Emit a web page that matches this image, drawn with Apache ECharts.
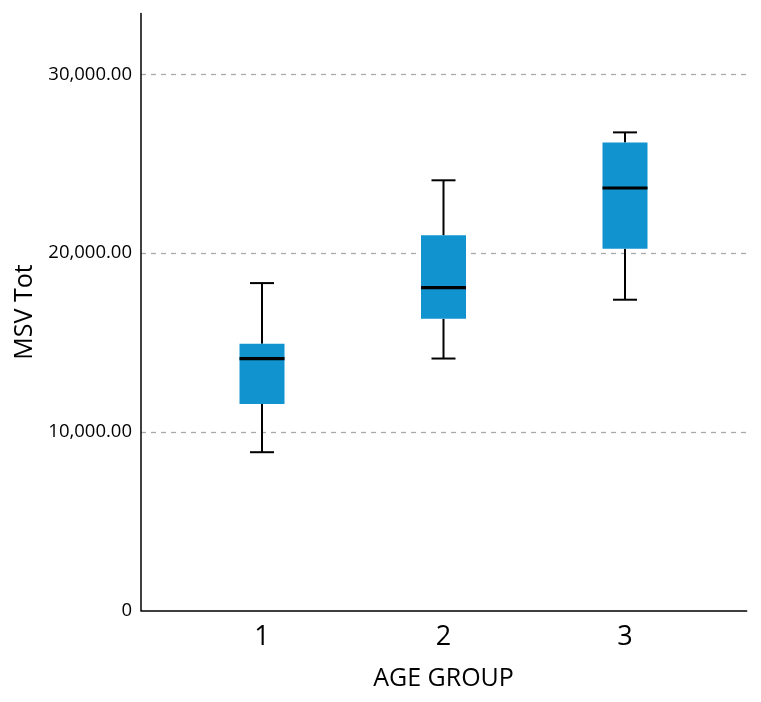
<!DOCTYPE html>
<html>
<head>
<meta charset="utf-8">
<script src="https://cdn.jsdelivr.net/npm/echarts@6/dist/echarts.min.js"></script>
<style>html,body{margin:0;padding:0;background:#fff;}#c{width:761px;height:702px;}</style>
</head>
<body>
<div id="c"></div>
<script>
// Data
const categories = ['1', '2', '3'];
const lowWhisker = [8860, 14100, 17390];
const q1Values = [11550, 16320, 20240];
const medianValues = [14100, 18070, 23640];
const q3Values = [14920, 20990, 26190];
const highWhisker = [18320, 24070, 26750];
const yTicks = [0, 10000, 20000, 30000];
const yTickLabels = ['0', '10,000.00', '20,000.00', '30,000.00'];
const xAxisTitle = 'AGE GROUP';
const yAxisTitle = 'MSV Tot';

const boxData = categories.map((c, i) => [i, lowWhisker[i], q1Values[i], medianValues[i], q3Values[i], highWhisker[i]]);

const FONT = '"Open Sans", "Noto Sans", sans-serif';
const Y_MAX = 33400;
const frame = { left: 141, right: 14.3, top: 13.5, bottom: 91.4 };
const inner = { left: 171.25, right: 45.25, top: 13.5, bottom: 91.4 };

const chart = echarts.init(document.getElementById('c'), null, { renderer: 'canvas' });

function renderBox(params, api) {
  const x = api.value(0);
  const lo = api.coord([x, api.value(1)]);
  const q1 = api.coord([x, api.value(2)]);
  const med = api.coord([x, api.value(3)]);
  const q3 = api.coord([x, api.value(4)]);
  const hi = api.coord([x, api.value(5)]);
  const cx = lo[0];
  const boxW = 45, capW = 24;
  const lineStyle = { stroke: '#000', lineWidth: 2 };
  return {
    type: 'group',
    children: [
      { type: 'line', shape: { x1: cx, y1: hi[1], x2: cx, y2: q3[1] }, style: lineStyle },
      { type: 'line', shape: { x1: cx, y1: q1[1], x2: cx, y2: lo[1] }, style: lineStyle },
      { type: 'line', shape: { x1: cx - capW / 2, y1: hi[1], x2: cx + capW / 2, y2: hi[1] }, style: lineStyle },
      { type: 'line', shape: { x1: cx - capW / 2, y1: lo[1], x2: cx + capW / 2, y2: lo[1] }, style: lineStyle },
      { type: 'rect', shape: { x: cx - boxW / 2, y: q3[1], width: boxW, height: q1[1] - q3[1] }, style: { fill: '#1193d0', stroke: null } },
      { type: 'line', shape: { x1: cx - boxW / 2, y1: med[1], x2: cx + boxW / 2, y2: med[1] }, style: { stroke: '#000', lineWidth: 3.2 } }
    ]
  };
}

chart.setOption({
  backgroundColor: '#fff',
  animation: false,
  grid: [
    Object.assign({ containLabel: false }, frame),
    Object.assign({ containLabel: false }, inner)
  ],
  xAxis: [
    {
      gridIndex: 0, type: 'value', min: 0, max: 1,
      axisLine: { show: true, lineStyle: { color: '#000', width: 1.5 } },
      axisTick: { show: false }, axisLabel: { show: false }, splitLine: { show: false }
    },
    {
      gridIndex: 1, type: 'category', data: categories, boundaryGap: true,
      axisLine: { show: false }, axisTick: { show: false }, splitLine: { show: false },
      axisLabel: { color: '#000', fontFamily: FONT, fontSize: 27, margin: 13 },
      name: xAxisTitle, nameLocation: 'middle', nameGap: 56,
      nameTextStyle: { color: '#000', fontFamily: FONT, fontSize: 25 }
    }
  ],
  yAxis: [
    {
      gridIndex: 0, type: 'value', min: 0, max: Y_MAX, interval: 10000,
      axisLine: { show: true, lineStyle: { color: '#000', width: 1.5 } },
      axisTick: { show: false },
      axisLabel: {
        color: '#000', fontFamily: FONT, fontSize: 18.5, margin: 9,
        showMaxLabel: false,
        formatter: function (v) { const i = yTicks.indexOf(v); return i >= 0 ? yTickLabels[i] : ''; }
      },
      splitLine: { show: true, showMaxLine: false, showMinLine: false, lineStyle: { color: '#aaaaaa', width: 1.3, type: [5, 5] } },
      name: yAxisTitle, nameLocation: 'middle', nameGap: 99, nameRotate: 90,
      nameTextStyle: { color: '#000', fontFamily: FONT, fontSize: 25 }
    },
    {
      gridIndex: 1, type: 'value', min: 0, max: Y_MAX, show: false
    }
  ],
  series: [
    {
      type: 'custom',
      xAxisIndex: 1, yAxisIndex: 1,
      renderItem: renderBox,
      encode: { x: 0, y: [1, 2, 3, 4, 5] },
      data: boxData,
      z: 5
    }
  ]
});
</script>
</body>
</html>
